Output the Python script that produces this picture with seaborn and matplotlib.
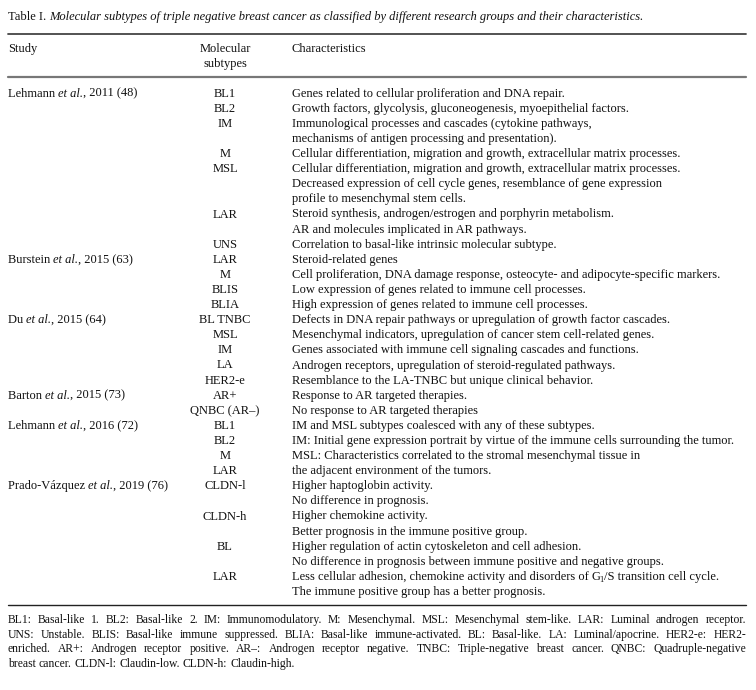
import matplotlib
matplotlib.use('Agg')
import matplotlib.pyplot as plt
import seaborn as sns

sns.set_theme(style='white')
plt.rcParams['font.family'] = ['Liberation Serif', 'DejaVu Serif']

title_label = 'Table I. '
title_text = ('Molecular subtypes of triple negative breast cancer as classified '
              'by different research groups and their characteristics.')

header_study = 'Study'
header_subtype = ['Molecular', 'subtypes']
header_char = 'Characteristics'

# study name, year (ref), line index where the study starts
study_names = ['Lehmann', 'Burstein', 'Du', 'Barton', 'Lehmann', 'Prado-Vázquez']
study_years = ['2011 (48)', '2015 (63)', '2015 (64)', '2015 (73)', '2016 (72)', '2019 (76)']
study_start = [0, 11, 15, 20, 22, 26]

subtypes = ['BL1', 'BL2', 'IM', '', 'M', 'MSL', '', '', 'LAR', '', 'UNS',
            'LAR', 'M', 'BLIS', 'BLIA',
            'BL TNBC', 'MSL', 'IM', 'LA', 'HER2-e',
            'AR+', 'QNBC (AR–)',
            'BL1', 'BL2', 'M', 'LAR',
            'CLDN-l', '', 'CLDN-h', '', 'BL', '', 'LAR', '']

# '_1' marks a subscript 1
characteristics = [
    'Genes related to cellular proliferation and DNA repair.',
    'Growth factors, glycolysis, gluconeogenesis, myoepithelial factors.',
    'Immunological processes and cascades (cytokine pathways,',
    'mechanisms of antigen processing and presentation).',
    'Cellular differentiation, migration and growth, extracellular matrix processes.',
    'Cellular differentiation, migration and growth, extracellular matrix processes.',
    'Decreased expression of cell cycle genes, resemblance of gene expression',
    'profile to mesenchymal stem cells.',
    'Steroid synthesis, androgen/estrogen and porphyrin metabolism.',
    'AR and molecules implicated in AR pathways.',
    'Correlation to basal-like intrinsic molecular subtype.',
    'Steroid-related genes',
    'Cell proliferation, DNA damage response, osteocyte- and adipocyte-specific markers.',
    'Low expression of genes related to immune cell processes.',
    'High expression of genes related to immune cell processes.',
    'Defects in DNA repair pathways or upregulation of growth factor cascades.',
    'Mesenchymal indicators, upregulation of cancer stem cell-related genes.',
    'Genes associated with immune cell signaling cascades and functions.',
    'Androgen receptors, upregulation of steroid-regulated pathways.',
    'Resemblance to the LA-TNBC but unique clinical behavior.',
    'Response to AR targeted therapies.',
    'No response to AR targeted therapies',
    'IM and MSL subtypes coalesced with any of these subtypes.',
    'IM: Initial gene expression portrait by virtue of the immune cells surrounding the tumor.',
    'MSL: Characteristics correlated to the stromal mesenchymal tissue in',
    'the adjacent environment of the tumors.',
    'Higher haptoglobin activity.',
    'No difference in prognosis.',
    'Higher chemokine activity.',
    'Better prognosis in the immune positive group.',
    'Higher regulation of actin cytoskeleton and cell adhesion.',
    'No difference in prognosis between immune positive and negative groups.',
    'Less cellular adhesion, chemokine activity and disorders of G_1/S transition cell cycle.',
    'The immune positive group has a better prognosis.',
]

footnote_lines = [
    'BL1: Basal-like 1. BL2: Basal-like 2. IM: Immunomodulatory. M: Mesenchymal. MSL: Mesenchymal stem-like. LAR: Luminal androgen receptor.',
    'UNS: Unstable. BLIS: Basal-like immune suppressed. BLIA: Basal-like immune-activated. BL: Basal-like. LA: Luminal/apocrine. HER2-e: HER2-',
    'enriched. AR+: Androgen receptor positive. AR–: Androgen receptor negative. TNBC: Triple-negative breast cancer. QNBC: Quadruple-negative',
    'breast cancer. CLDN-l: Claudin-low. CLDN-h: Claudin-high.',
]

W, H = 756, 690
fig = plt.figure(figsize=(W / 100, H / 100), dpi=100)
ax = fig.add_axes([0, 0, 1, 1])
ax.set_xlim(0, W)
ax.set_ylim(H, 0)
ax.axis('off')
renderer = fig.canvas.get_renderer()

BODY = 9.0
TITLE = 9.0
NOTE = 8.4
TXT = '#111111'
X0, X1 = 8, 746
X_SUB, X_CHAR = 225, 292


def width(s, size, style='normal'):
    t = ax.text(0, 0, s, fontsize=size, style=style)
    w = t.get_window_extent(renderer).width
    t.remove()
    return w


def advance(s, size, style='normal'):
    return width(s + '|', size, style) - width('|', size, style)


def segments(x, y, parts, size):
    for s, style, dy, scale, dx in parts:
        x += dx
        ax.text(x, y + dy, s, fontsize=size * scale, style=style, color=TXT,
                va='baseline')
        x += advance(s, size * scale, style)


def char_parts(line):
    if '_1' not in line:
        return [(line, 'normal', 0, 1.0, 0)]
    a, b = line.split('_1')
    return [(a, 'normal', 0, 1.0, 0), ('1', 'normal', 2.5, 0.68, -1.2),
            (b, 'normal', 0, 1.0, -0.3)]


def justified(y, line, size, last=False):
    words = line.split(' ')
    ws = [width(w, size) for w in words]
    if last:
        gap = advance(' ', size)
    else:
        gap = (X1 - X0 - sum(ws)) / (len(words) - 1)
    x = X0
    for w, wd in zip(words, ws):
        ax.text(x, y, w, fontsize=size, color=TXT, va='baseline')
        x += wd + gap


BASE = 3.2  # centre-to-baseline offset in px

# title
segments(X0, 17 + BASE, [(title_label, 'normal', 0, 1.0, 0),
                         (title_text, 'italic', 0, 1.0, 0)], TITLE)

# rules
ax.plot([X0, X1], [34, 34], color='#444444', lw=1.3)
ax.plot([X0, X1], [77, 77], color='#777777', lw=1.6)
ax.plot([X0, X1], [605, 605], color='#222222', lw=1.0)

# header
ax.text(X0, 49 + BASE, header_study, fontsize=BODY, color=TXT, va='baseline')
ax.text(X_SUB, 49 + BASE, header_subtype[0], fontsize=BODY, color=TXT, ha='center', va='baseline')
ax.text(X_SUB, 64 + BASE, header_subtype[1], fontsize=BODY, color=TXT, ha='center', va='baseline')
ax.text(X_CHAR, 49 + BASE, header_char, fontsize=BODY, color=TXT, va='baseline')

Y0, DY = 93.5 + BASE, 15.1
for name, year, i in zip(study_names, study_years, study_start):
    segments(X0, Y0 + i * DY, [(name + ' ', 'normal', 0, 1.0, 0),
                               ('et al.', 'italic', 0, 1.0, 0),
                               (', ' + year, 'normal', 0, 1.0, 0)], BODY)

for i, (sub, ch) in enumerate(zip(subtypes, characteristics)):
    y = Y0 + i * DY
    if sub:
        ax.text(X_SUB, y, sub, fontsize=BODY, color=TXT, ha='center', va='baseline')
    segments(X_CHAR, y, char_parts(ch), BODY)

# footnote
for j, line in enumerate(footnote_lines):
    justified(620 + BASE + j * 14.5, line, NOTE, last=(j == len(footnote_lines) - 1))

fig.savefig('out.png', dpi=100)
